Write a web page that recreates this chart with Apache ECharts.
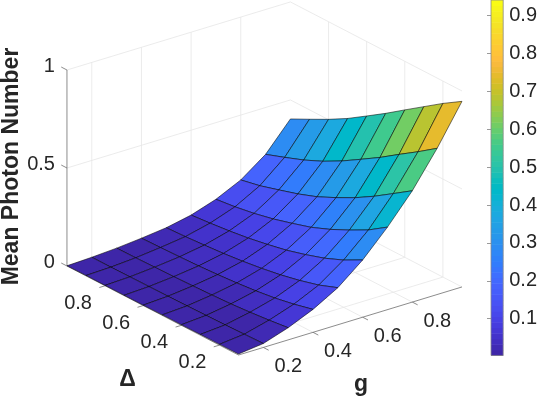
<!DOCTYPE html>
<html>
<head>
<meta charset="utf-8">
<style>
  html, body { margin: 0; padding: 0; background: #fff; }
  #chart { width: 540px; height: 397px; }
</style>
</head>
<body>
<div id="chart"></div>
<script src="https://cdn.jsdelivr.net/npm/echarts@6/dist/echarts.min.js"></script>
<script>
const gValues = [0.1, 0.2, 0.3, 0.4, 0.5, 0.6, 0.7, 0.8, 0.9, 1.0]
const deltaValues = [0.1, 0.2, 0.3, 0.4, 0.5, 0.6, 0.7, 0.8, 0.9, 1.0]
// one row per g, one column per delta
const photonG01 = [0.005, 0.004, 0.004, 0.003, 0.003, 0.002, 0.002, 0.002, 0.002, 0.001]
const photonG02 = [0.020, 0.017, 0.014, 0.012, 0.010, 0.009, 0.008, 0.007, 0.006, 0.006]
const photonG03 = [0.062, 0.050, 0.040, 0.032, 0.027, 0.023, 0.020, 0.018, 0.015, 0.014]
const photonG04 = [0.117, 0.093, 0.074, 0.060, 0.050, 0.042, 0.036, 0.032, 0.029, 0.026]
const photonG05 = [0.189, 0.152, 0.125, 0.103, 0.086, 0.072, 0.061, 0.053, 0.046, 0.041]
const photonG06 = [0.292, 0.241, 0.200, 0.168, 0.140, 0.119, 0.101, 0.087, 0.076, 0.067]
const photonG07 = [0.421, 0.356, 0.305, 0.258, 0.218, 0.188, 0.160, 0.138, 0.121, 0.109]
const photonG08 = [0.568, 0.503, 0.439, 0.381, 0.331, 0.285, 0.249, 0.219, 0.190, 0.169]
const photonG09 = [0.746, 0.678, 0.614, 0.548, 0.488, 0.429, 0.377, 0.333, 0.296, 0.261]
const photonG10 = [0.947, 0.886, 0.819, 0.752, 0.684, 0.620, 0.557, 0.502, 0.452, 0.403]
const photon = [photonG01, photonG02, photonG03, photonG04, photonG05, photonG06, photonG07, photonG08, photonG09, photonG10]

const gTicks = [0.2, 0.4, 0.6, 0.8]
const deltaTicks = [0.2, 0.4, 0.6, 0.8]
const zTicks = [0, 0.5, 1]
const barTicks = [0.1, 0.2, 0.3, 0.4, 0.5, 0.6, 0.7, 0.8, 0.9]
const colorMin = 0.003
const colorMax = 0.941

const parula = [
  [0.2422,0.1504,0.6603],[0.2504,0.1650,0.7076],[0.2578,0.1818,0.7511],[0.2647,0.1978,0.7952],
  [0.2706,0.2147,0.8364],[0.2751,0.2342,0.8710],[0.2783,0.2559,0.8991],[0.2803,0.2782,0.9221],
  [0.2813,0.3006,0.9414],[0.2810,0.3228,0.9579],[0.2795,0.3447,0.9717],[0.2760,0.3667,0.9829],
  [0.2699,0.3892,0.9906],[0.2602,0.4123,0.9952],[0.2440,0.4358,0.9988],[0.2206,0.4603,0.9973],
  [0.1963,0.4847,0.9892],[0.1834,0.5074,0.9798],[0.1786,0.5289,0.9682],[0.1764,0.5499,0.9520],
  [0.1687,0.5703,0.9359],[0.1540,0.5902,0.9218],[0.1460,0.6091,0.9079],[0.1380,0.6276,0.8973],
  [0.1248,0.6459,0.8883],[0.1113,0.6635,0.8763],[0.0952,0.6798,0.8598],[0.0689,0.6948,0.8394],
  [0.0297,0.7082,0.8163],[0.0036,0.7203,0.7917],[0.0067,0.7312,0.7660],[0.0433,0.7411,0.7394],
  [0.0964,0.7500,0.7120],[0.1408,0.7584,0.6842],[0.1717,0.7670,0.6554],[0.1938,0.7758,0.6251],
  [0.2161,0.7843,0.5923],[0.2470,0.7918,0.5567],[0.2906,0.7973,0.5188],[0.3406,0.8008,0.4789],
  [0.3909,0.8029,0.4354],[0.4456,0.8024,0.3909],[0.5044,0.7993,0.3480],[0.5616,0.7942,0.3045],
  [0.6174,0.7876,0.2612],[0.6720,0.7793,0.2227],[0.7242,0.7698,0.1910],[0.7738,0.7598,0.1646],
  [0.8203,0.7498,0.1535],[0.8634,0.7406,0.1596],[0.9035,0.7330,0.1774],[0.9393,0.7288,0.2100],
  [0.9728,0.7298,0.2394],[0.9956,0.7434,0.2371],[0.9970,0.7659,0.2199],[0.9952,0.7893,0.2028],
  [0.9892,0.8136,0.1885],[0.9786,0.8386,0.1766],[0.9676,0.8639,0.1643],[0.9610,0.8890,0.1537],
  [0.9597,0.9135,0.1423],[0.9628,0.9373,0.1265],[0.9691,0.9606,0.1064],[0.9769,0.9839,0.0805]
]

const FONT = '"Liberation Sans", Arial, sans-serif'
const TEXT = '#262626'
const GRIDLINE = '#e6e6e6'
const AXISLINE = '#6e6e6e'

function rgb(c) {
  return `rgb(${Math.round(c[0] * 255)},${Math.round(c[1] * 255)},${Math.round(c[2] * 255)})`
}
function colorOf(v) {
  const i = Math.floor((v - colorMin) / (colorMax - colorMin) * parula.length)
  return rgb(parula[Math.max(0, Math.min(parula.length - 1, i))])
}

// fixed MATLAB style view: orthographic, from the g=0.1, delta=0.1 corner
function project(g, d, z) {
  return [
    238.5 + (g - 0.1) * 248.3 - (d - 0.1) * 190.6,
    355 - (g - 0.1) * 75.6 - (d - 0.1) * 98.9 - z * 196
  ]
}

const gLo = gValues[0], gHi = gValues[gValues.length - 1]
const dLo = deltaValues[0], dHi = deltaValues[deltaValues.length - 1]

// wall and floor grid, [g0, d0, z0, g1, d1, z1]
const gridSegs = []
gTicks.forEach(g => {
  gridSegs.push([g, dHi, 0, g, dHi, 1])
  gridSegs.push([g, dLo, 0, g, dHi, 0])
})
deltaTicks.forEach(d => {
  gridSegs.push([gHi, d, 0, gHi, d, 1])
  gridSegs.push([gLo, d, 0, gHi, d, 0])
})
zTicks.forEach(z => {
  gridSegs.push([gLo, dHi, z, gHi, dHi, z])
  gridSegs.push([gHi, dHi, z, gHi, dLo, z])
})

const axisSegs = [
  [gLo, dHi, 0, gLo, dHi, 1],
  [gLo, dLo, 0, gLo, dHi, 0],
  [gLo, dLo, 0, gHi, dLo, 0]
]
zTicks.forEach(z => axisSegs.push([gLo, dHi, z, gLo, dHi + 0.03, z]))
deltaTicks.forEach(d => axisSegs.push([gLo, d, 0, gLo - 0.023, d, 0]))
gTicks.forEach(g => axisSegs.push([g, dLo, 0, g, dLo - 0.028, 0]))

// cells far to near so nearer ones paint over
const cells = []
for (let i = 0; i < gValues.length - 1; i++) {
  for (let j = 0; j < deltaValues.length - 1; j++) cells.push([i, j])
}
cells.sort((a, b) => (b[0] + b[1]) - (a[0] + a[1]))

const tickLabels = []
zTicks.forEach(z => {
  const p = project(gLo, dHi, z)
  tickLabels.push([String(z), p[0] - 12, p[1] - 4, 'right'])
})
deltaTicks.forEach(d => {
  const p = project(gLo, d, 0)
  tickLabels.push([d.toFixed(1), p[0] - 27, p[1] + 17.5, 'center'])
})
gTicks.forEach(g => {
  const p = project(g, dLo, 0)
  tickLabels.push([g.toFixed(1), p[0] + 25, p[1] + 19.5, 'center'])
})

function segSeries(segs, color, width, z) {
  return {
    type: 'custom', silent: true, clip: false, z,
    xAxisIndex: 0, yAxisIndex: 0,
    data: segs,
    renderItem(params, api) {
      const s = segs[params.dataIndex]
      const a = api.coord(project(s[0], s[1], s[2]))
      const b = api.coord(project(s[3], s[4], s[5]))
      return { type: 'line', shape: { x1: a[0], y1: a[1], x2: b[0], y2: b[1] }, style: { stroke: color, lineWidth: width } }
    }
  }
}

const option = {
  animation: false,
  backgroundColor: '#fff',
  grid: [
    { left: 0, right: 0, top: 0, bottom: 0 },
    { left: 491, width: 17.5, top: 0, height: 356.6 }
  ],
  xAxis: [
    { type: 'value', min: 0, max: 540, show: false, gridIndex: 0 },
    { type: 'value', min: 0, max: 1, show: false, gridIndex: 1 }
  ],
  yAxis: [
    { type: 'value', min: 0, max: 397, inverse: true, show: false, gridIndex: 0 },
    { type: 'value', min: 0, max: colorMax, interval: 0.1, gridIndex: 1, position: 'right',
      axisLine: { show: false }, splitLine: { show: false },
      axisTick: { inside: true, length: 4, customValues: barTicks, lineStyle: { color: AXISLINE, width: 0.7 } },
      axisLabel: { customValues: barTicks, formatter: v => v.toFixed(1), color: TEXT, fontSize: 20, fontFamily: FONT, margin: 6 } }
  ],
  series: [
    segSeries(gridSegs, GRIDLINE, 0.8, 1),
    segSeries(axisSegs, AXISLINE, 0.8, 2),
    {
      // surface
      type: 'custom', silent: true, clip: false, z: 3,
      xAxisIndex: 0, yAxisIndex: 0,
      data: cells,
      renderItem(params, api) {
        const [i, j] = cells[params.dataIndex]
        const corners = [[i, j], [i + 1, j], [i + 1, j + 1], [i, j + 1]]
        const points = corners.map(c => api.coord(project(gValues[c[0]], deltaValues[c[1]], photon[c[0]][c[1]])))
        return {
          type: 'polygon', shape: { points },
          style: { fill: colorOf(photon[i][j]), stroke: 'rgba(0,0,0,0.9)', lineWidth: 0.6 }
        }
      }
    },
    {
      // tick labels of the 3d axes
      type: 'custom', silent: true, clip: false, z: 4,
      xAxisIndex: 0, yAxisIndex: 0,
      data: tickLabels,
      renderItem(params, api) {
        const t = tickLabels[params.dataIndex]
        const p = api.coord([t[1], t[2]])
        return { type: 'text', x: p[0], y: p[1], style: { text: t[0], fill: TEXT, font: `20px ${FONT}`, align: t[3], verticalAlign: 'middle' } }
      }
    },
    {
      // colorbar strip
      type: 'custom', silent: true, clip: false, z: 3,
      xAxisIndex: 1, yAxisIndex: 1,
      data: parula,
      renderItem(params, api) {
        const n = parula.length
        const lo = colorMin + (colorMax - colorMin) * params.dataIndex / n
        const hi = colorMin + (colorMax - colorMin) * (params.dataIndex + 1) / n
        const a = api.coord([0, lo])
        const b = api.coord([1, hi])
        return { type: 'rect', shape: { x: a[0], y: b[1], width: b[0] - a[0], height: a[1] - b[1] + 0.5 }, style: { fill: rgb(parula[params.dataIndex]) } }
      }
    },
    {
      // colorbar frame
      type: 'custom', silent: true, clip: false, z: 4,
      xAxisIndex: 1, yAxisIndex: 1,
      data: [[0]],
      renderItem(params, api) {
        const a = api.coord([0, colorMin])
        const b = api.coord([1, colorMax])
        return { type: 'rect', shape: { x: a[0], y: b[1], width: b[0] - a[0], height: a[1] - b[1] }, style: { fill: 'none', stroke: '#8a8a8a', lineWidth: 0.8 } }
      }
    }
  ],
  graphic: [
    { type: 'text', x: 11.5, y: 166.5, rotation: Math.PI / 2, z: 10,
      style: { text: 'Mean Photon Number', fill: TEXT, font: `bold 23px ${FONT}`, align: 'center', verticalAlign: 'middle' } },
    { type: 'text', x: 127.5, y: 380, z: 10,
      style: { text: 'Δ', fill: TEXT, font: `bold 23px ${FONT}`, align: 'center', verticalAlign: 'middle' } },
    { type: 'text', x: 361, y: 385, z: 10,
      style: { text: 'g', fill: TEXT, font: `bold 23px ${FONT}`, align: 'center', verticalAlign: 'middle' } }
  ]
}

const chart = echarts.init(document.getElementById('chart'), null, { renderer: 'canvas' })
chart.setOption(option)
</script>
</body>
</html>
